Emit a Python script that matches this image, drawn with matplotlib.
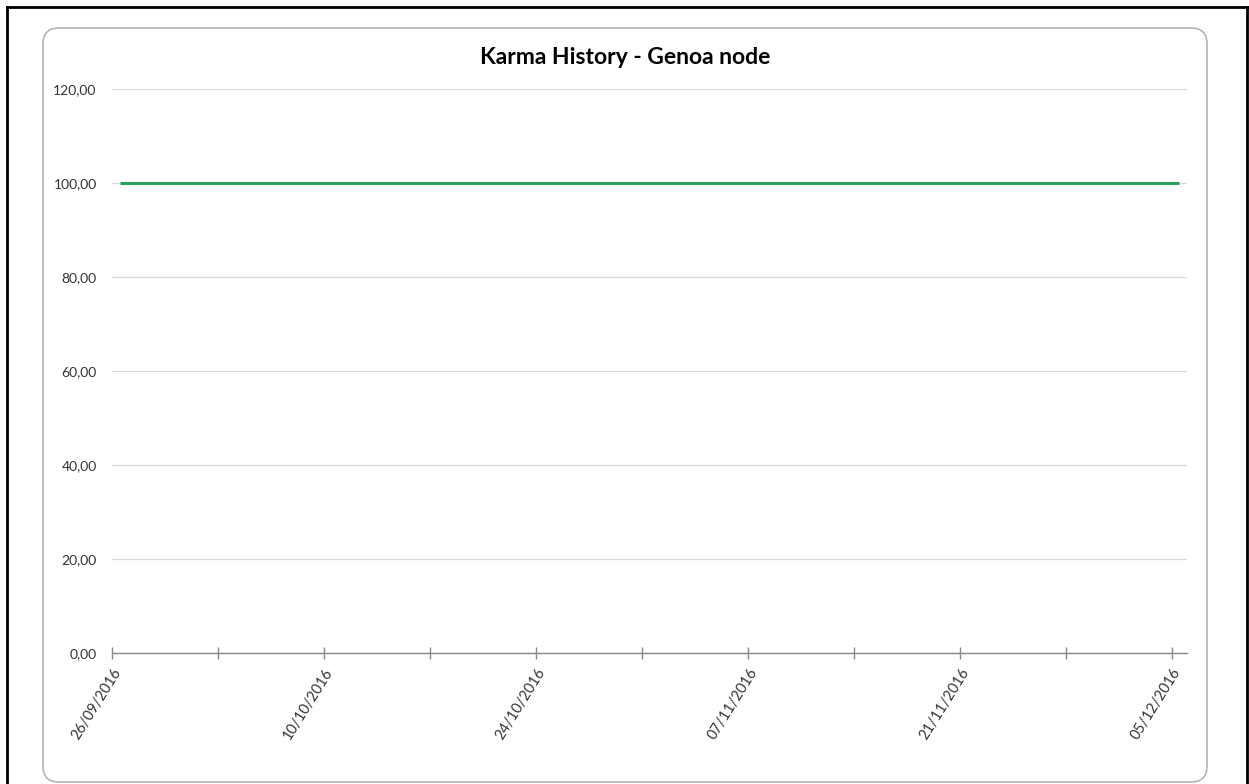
import numpy as np
import pandas as pd
import matplotlib
matplotlib.use('Agg')
import matplotlib.pyplot as plt
import matplotlib.dates as mdates
from matplotlib.patches import FancyBboxPatch
from matplotlib.ticker import FuncFormatter, MultipleLocator, FixedLocator

plt.rcParams['font.family'] = ['Lato', 'DejaVu Sans']

# daily karma readings for the Genoa node
days = pd.date_range('2016-09-26', '2016-12-05', freq='D')
karma = [
    100.0, 100.0, 100.0, 100.0, 100.0, 100.0, 100.0, 100.0, 100.0, 100.0,
    100.0, 100.0, 100.0, 100.0, 100.0, 100.0, 100.0, 100.0, 100.0, 100.0,
    100.0, 100.0, 100.0, 100.0, 100.0, 100.0, 100.0, 100.0, 100.0, 100.0,
    100.0, 100.0, 100.0, 100.0, 100.0, 100.0, 100.0, 100.0, 100.0, 100.0,
    100.0, 100.0, 100.0, 100.0, 100.0, 100.0, 100.0, 100.0, 100.0, 100.0,
    100.0, 100.0, 100.0, 100.0, 100.0, 100.0, 100.0, 100.0, 100.0, 100.0,
    100.0, 100.0, 100.0, 100.0, 100.0, 100.0, 100.0, 100.0, 100.0, 100.0,
    100.0,
]
title = 'Karma History - Genoa node'

W, H = 1249, 784
fig = plt.figure(figsize=(W / 100, H / 100), dpi=100)

# frame layer in pixel units
bg = fig.add_axes([0, 0, 1, 1])
bg.set_xlim(0, W)
bg.set_ylim(H, 0)
bg.axis('off')
bg.add_patch(FancyBboxPatch((43, 28), 1207 - 43, 782 - 28,
                            boxstyle='round,pad=0,rounding_size=16',
                            fc='white', ec='#b4b4b4', lw=1.2))
bg.plot([7, 7], [7, H], color='black', lw=2)
bg.plot([7, 1247], [7, 7], color='black', lw=2)
bg.plot([1247, 1247], [7, H], color='black', lw=2)

ax = fig.add_axes([112 / W, 1 - 653 / H, 1075 / W, 564 / H])
ax.set_facecolor('none')

# points sit in the middle of each day slot
x = days + pd.Timedelta(hours=12)
ax.plot(x, karma, color='#2ca05e', lw=2.2, solid_capstyle='butt')

ax.set_xlim(days[0], days[-1] + pd.Timedelta(days=1))
ax.set_ylim(0, 120)

ax.yaxis.set_major_locator(MultipleLocator(20))
ax.yaxis.set_major_formatter(FuncFormatter(lambda v, p: f'{v:.2f}'.replace('.', ',')))
ax.grid(axis='y', color='#d9d9d9', lw=0.9)
ax.set_axisbelow(True)

# labelled every two weeks, plain marks every week
ax.xaxis.set_major_locator(FixedLocator(mdates.date2num(days[::14])))
ax.xaxis.set_minor_locator(FixedLocator(mdates.date2num(days[::7])))
ax.xaxis.set_major_formatter(mdates.DateFormatter('%d/%m/%Y'))

for s in ['top', 'right', 'left']:
    ax.spines[s].set_visible(False)
ax.spines['bottom'].set_color('#868686')
ax.spines['bottom'].set_linewidth(1.0)

ax.tick_params(axis='y', length=0, pad=11, labelsize=10, labelcolor='#333333')
ax.tick_params(axis='x', which='both', direction='inout', length=8,
               color='#868686', width=1.0)
ax.tick_params(axis='x', which='major', pad=5, labelsize=10.5, labelcolor='#333333')
for lbl in ax.get_xticklabels():
    lbl.set_rotation(58)
    lbl.set_ha('right')
    lbl.set_va('top')
    lbl.set_rotation_mode('anchor')

fig.text(625 / W, 1 - 58 / H, title, ha='center', va='center',
         fontsize=16.5, fontweight='bold', color='black')

fig.savefig('out.png', dpi=100)
